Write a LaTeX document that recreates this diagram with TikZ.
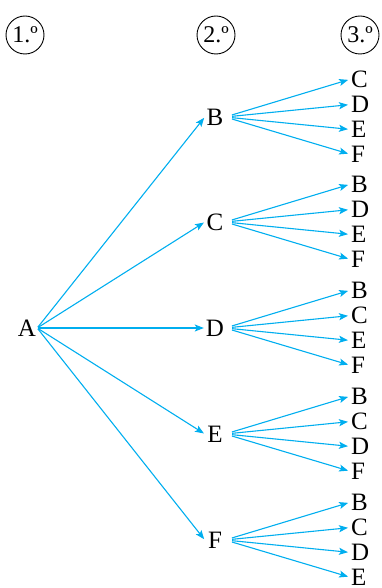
\documentclass[tikz,border=0pt]{standalone}
\usepackage{fontspec}
\setmainfont{Liberation Serif}
\usetikzlibrary{arrows.meta}
\definecolor{arrowcyan}{RGB}{0,174,239}
\begin{document}
\begin{tikzpicture}[x=1pt,y=-1pt,
 lbl/.style={font=\fontsize{25}{29}\selectfont, inner sep=0pt, text height=16.5pt, text depth=0pt},
 mid/.style={lbl, minimum width=20pt},
 leaf/.style={lbl, anchor=west},
 stage/.style={circle, draw, line width=0.9pt, minimum size=38pt, inner sep=0pt, font=\fontsize{24}{28}\selectfont},
 arr/.style={draw=arrowcyan, line width=1.1pt, -{Stealth[length=9pt,width=7pt,inset=2pt]}}]
\useasboundingbox (0,0) rectangle (381,588);
% stage labels
\node[stage] (s1) at (25,35) {1.º};
\node[stage] (s2) at (216,35) {2.º};
\node[stage] (s3) at (360,35) {3.º};
% root
\node[mid] (A) at (27,328) {A};
% level 2 and 3
\foreach \i/\L/\y/\leaves in {1/B/117/{C,D,E,F}, 2/C/222/{B,D,E,F}, 3/D/328/{B,C,E,F}, 4/E/434/{B,C,D,F}, 5/F/540/{B,C,D,E}} {
  \node[mid] (m\i) at (215,\y) {\L};
  \draw[arr, shorten <=1pt, shorten >=1pt] (A.east) -- (m\i.west);
  \foreach \lf [count=\j] in \leaves {
    \pgfmathsetmacro{\off}{{-38,-12.5,12.5,37.5}[\j-1]}
    \node[leaf] (l\i\j) at (351,\y+\off) {\lf};
    \draw[arr, shorten <=7pt, shorten >=3pt] (m\i.east) -- (l\i\j.west);
  }
}
\end{tikzpicture}
\end{document}
